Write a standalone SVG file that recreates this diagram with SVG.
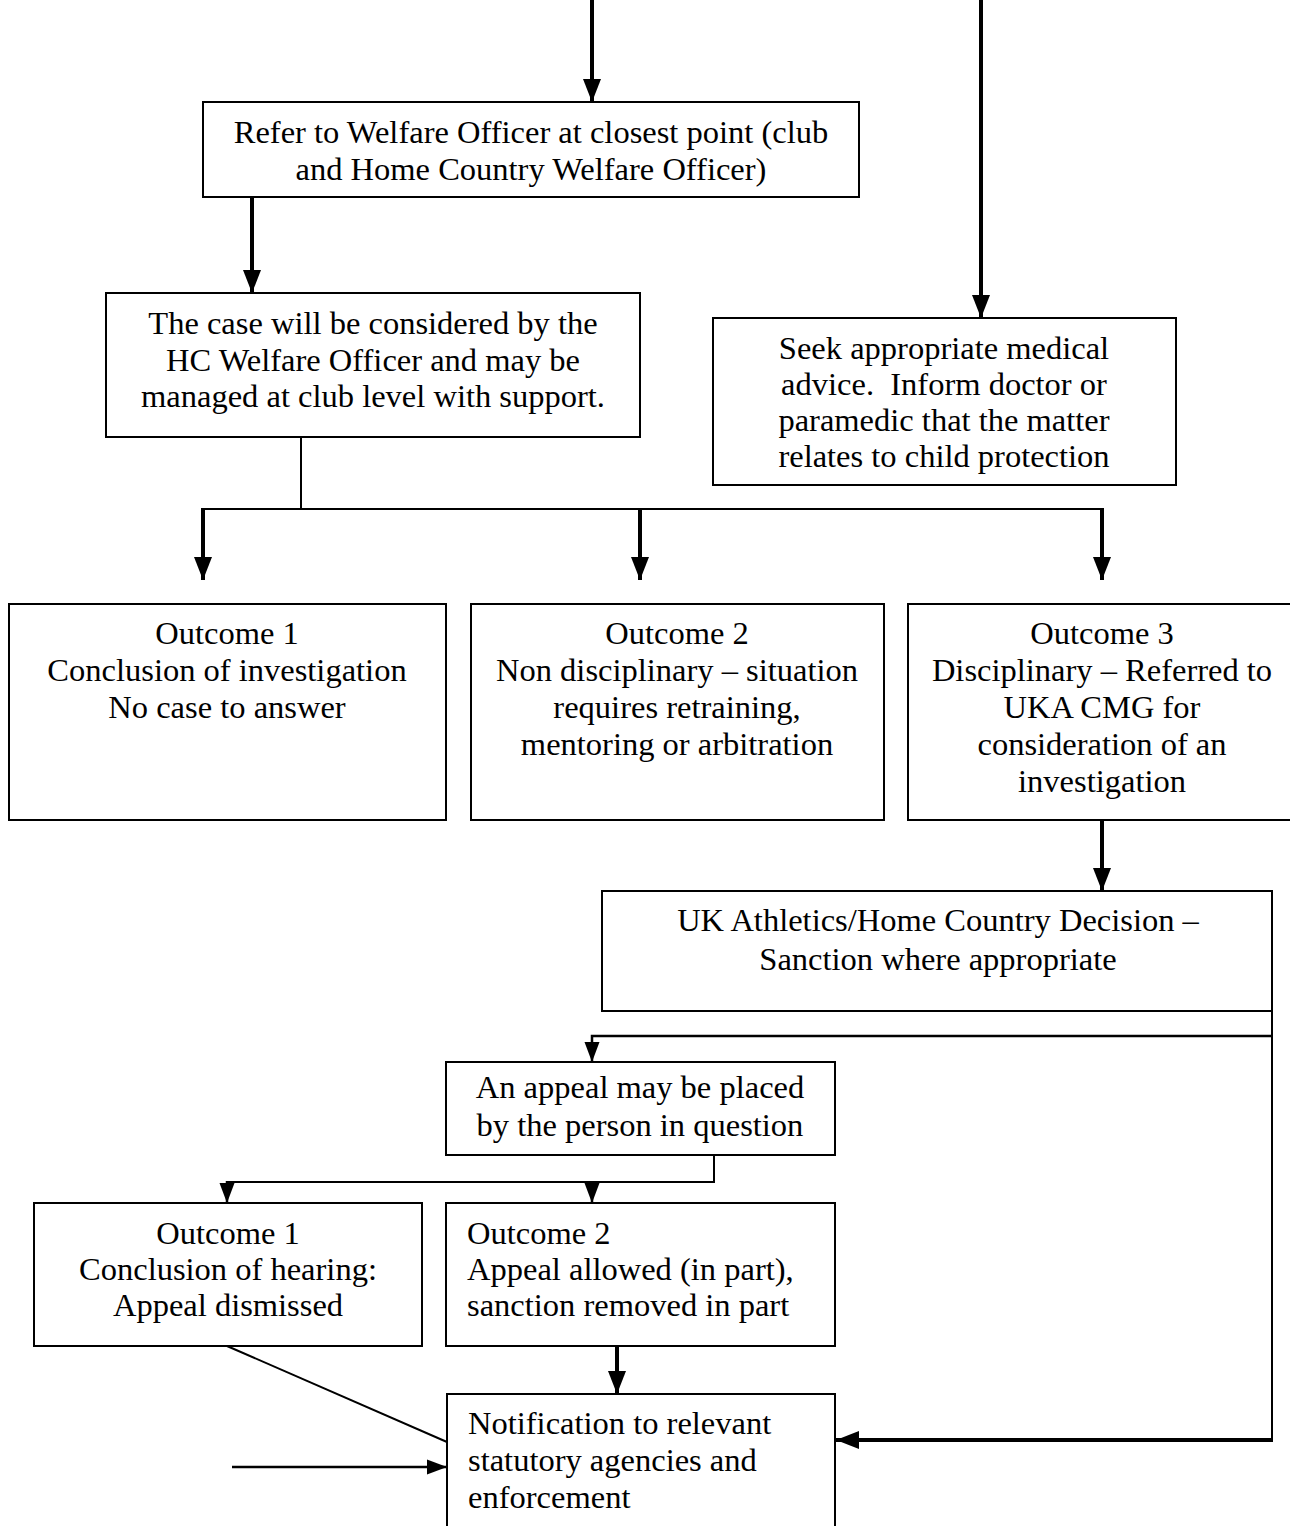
<svg xmlns="http://www.w3.org/2000/svg" width="1290" height="1526" viewBox="0 0 1290 1526">
<style>
.box{fill:#fff;stroke:#000;stroke-width:2}
.t{font-family:"Liberation Serif","Times New Roman",serif;font-size:32.5px;fill:#000}
.c{text-anchor:middle}
.thick{stroke:#000;stroke-width:4;fill:none}
.mid{stroke:#000;stroke-width:2.5;fill:none}
.thin{stroke:#000;stroke-width:2;fill:none}
</style>
<defs>
<marker id="ah" markerUnits="userSpaceOnUse" markerWidth="26" markerHeight="26" viewBox="0 0 26 26" refX="23" refY="13" orient="auto">
<path d="M0,4 L23,13 L0,22 Z" fill="#000"/>
</marker>
<marker id="ahs" markerUnits="userSpaceOnUse" markerWidth="22" markerHeight="20" viewBox="0 0 22 20" refX="20" refY="10" orient="auto">
<path d="M0,2.5 L20,10 L0,17.5 Z" fill="#000"/>
</marker>
</defs>
<rect width="1290" height="1526" fill="#fff"/>
<g id="connectors">
<line class="thick" x1="592" y1="0" x2="592" y2="102" marker-end="url(#ah)"/>
<line class="thick" x1="981" y1="0" x2="981" y2="318" marker-end="url(#ah)"/>
<line class="thick" x1="252" y1="197" x2="252" y2="293" marker-end="url(#ah)"/>
<polyline class="thin" points="301,437 301,509"/>
<line class="thin" x1="203" y1="509" x2="1102" y2="509"/>
<line class="thick" x1="203" y1="508" x2="203" y2="580" marker-end="url(#ah)"/>
<line class="thick" x1="640" y1="508" x2="640" y2="580" marker-end="url(#ah)"/>
<line class="thick" x1="1102" y1="508" x2="1102" y2="580" marker-end="url(#ah)"/>
<line class="thick" x1="1102" y1="820" x2="1102" y2="891" marker-end="url(#ah)"/>
<polyline class="thin" points="1272,1011 1272,1440"/>
<polyline class="mid" points="1272,1036 592,1036 592,1062" marker-end="url(#ahs)"/>
<polyline class="thin" points="714,1155 714,1182 227,1182"/>
<line class="mid" x1="227" y1="1181" x2="227" y2="1203" marker-end="url(#ahs)"/>
<line class="mid" x1="592" y1="1181" x2="592" y2="1203" marker-end="url(#ahs)"/>
<line class="thick" x1="617" y1="1346" x2="617" y2="1394" marker-end="url(#ah)"/>
<line class="thin" x1="227" y1="1346" x2="447" y2="1442"/>
<line class="mid" x1="232" y1="1467" x2="447" y2="1467" marker-end="url(#ahs)"/>
<line class="thick" x1="1273" y1="1440" x2="836" y2="1440" marker-end="url(#ah)"/>
</g>
<g id="n1">
<rect class="box" x="203" y="102" width="656" height="95"/>
<text class="t c" x="531" y="143">Refer to Welfare Officer at closest point (club</text>
<text class="t c" x="531" y="180">and Home Country Welfare Officer)</text>
</g>
<g id="n2">
<rect class="box" x="106" y="293" width="534" height="144"/>
<text class="t c" x="373" y="334">The case will be considered by the</text>
<text class="t c" x="373" y="371">HC Welfare Officer and may be</text>
<text class="t c" x="373" y="407">managed at club level with support.</text>
</g>
<g id="n3">
<rect class="box" x="713" y="318" width="463" height="167"/>
<text class="t c" x="944" y="359">Seek appropriate medical</text>
<text class="t c" x="944" y="395" xml:space="preserve">advice.  Inform doctor or</text>
<text class="t c" x="944" y="431">paramedic that the matter</text>
<text class="t c" x="944" y="467">relates to child protection</text>
</g>
<g id="n4">
<rect class="box" x="9" y="604" width="437" height="216"/>
<text class="t c" x="227" y="644">Outcome 1</text>
<text class="t c" x="227" y="681">Conclusion of investigation</text>
<text class="t c" x="227" y="718">No case to answer</text>
</g>
<g id="n5">
<rect class="box" x="471" y="604" width="413" height="216"/>
<text class="t c" x="677" y="644">Outcome 2</text>
<text class="t c" x="677" y="681">Non disciplinary – situation</text>
<text class="t c" x="677" y="718">requires retraining,</text>
<text class="t c" x="677" y="755">mentoring or arbitration</text>
</g>
<g id="n6">
<rect class="box" x="908" y="604" width="390" height="216"/>
<text class="t c" x="1102" y="644">Outcome 3</text>
<text class="t c" x="1102" y="681">Disciplinary – Referred to</text>
<text class="t c" x="1102" y="718">UKA CMG for</text>
<text class="t c" x="1102" y="755">consideration of an</text>
<text class="t c" x="1102" y="792">investigation</text>
</g>
<g id="n7">
<rect class="box" x="602" y="891" width="670" height="120"/>
<text class="t c" x="938" y="931">UK Athletics/Home Country Decision –</text>
<text class="t c" x="938" y="970">Sanction where appropriate</text>
</g>
<g id="n8">
<rect class="box" x="446" y="1062" width="389" height="93"/>
<text class="t c" x="640" y="1098">An appeal may be placed</text>
<text class="t c" x="640" y="1136">by the person in question</text>
</g>
<g id="n9">
<rect class="box" x="34" y="1203" width="388" height="143"/>
<text class="t c" x="228" y="1244">Outcome 1</text>
<text class="t c" x="228" y="1280">Conclusion of hearing:</text>
<text class="t c" x="228" y="1316">Appeal dismissed</text>
</g>
<g id="n10">
<rect class="box" x="446" y="1203" width="389" height="143"/>
<text class="t" x="467" y="1244">Outcome 2</text>
<text class="t" x="467" y="1280">Appeal allowed (in part),</text>
<text class="t" x="467" y="1316">sanction removed in part</text>
</g>
<g id="n11">
<rect class="box" x="447" y="1394" width="388" height="140"/>
<text class="t" x="468" y="1434">Notification to relevant</text>
<text class="t" x="468" y="1471">statutory agencies and</text>
<text class="t" x="468" y="1508">enforcement</text>
</g>
</svg>
